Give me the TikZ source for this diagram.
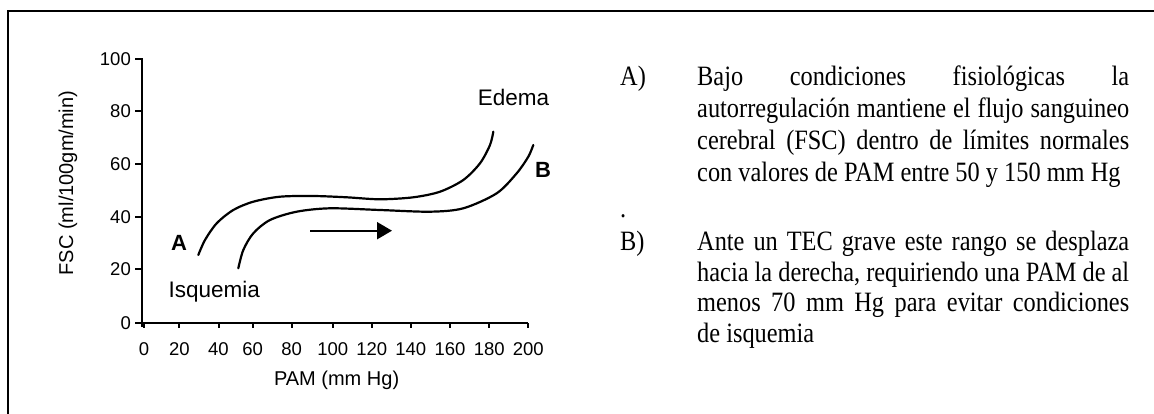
\documentclass[tikz,border=0pt]{standalone}
\usepackage{fontspec}
\setmainfont{Liberation Serif}
\setsansfont{Liberation Sans}
\newfontfamily\bodyfont[FakeStretch=0.87]{Liberation Serif}
\usetikzlibrary{arrows.meta}
\usetikzlibrary{positioning}
\hyphenpenalty=10000
\exhyphenpenalty=10000
\tolerance=10000
\hbadness=10000

\begin{document}
\begin{tikzpicture}[x=1pt, y=-1pt, >={Triangle[length=15pt,width=17pt]},
  axis/.style={line width=2pt},
  curve/.style={line width=2.2pt, line cap=round},
  ticklabel/.style={font=\sffamily\fontsize{18.5}{18.5}\selectfont, inner sep=0pt},
  curvelabel/.style={font=\sffamily\fontsize{22.5}{22.5}\selectfont, inner sep=0pt},
  item/.style={font=\bodyfont\fontsize{28}{32}\selectfont, inner sep=0pt, anchor=base west},
  para/.style={item, text width=432pt, align=justify}]
  \useasboundingbox (0,0) rectangle (1154,414);
  \clip (0,0) rectangle (1154,414);
  % frame
  \draw[line width=2.7pt] (8,430) -- (8,11) -- (1170,11);

  % axes
  \draw[axis] (141.7,58.3) -- (141.7,327);
  \draw[axis] (141.7,323) -- (528.3,323);
  \foreach \y / \val in {59.3/100, 111/80, 164/60, 216.7/40, 269.3/20, 323/0} {
    \draw[axis] (135,\y) -- (141.7,\y);
    \node[ticklabel, anchor=east] (y\val) at (131,\y) {\val};
  }
  \foreach \x / \val in {144/0, 179.3/20, 218.5/40, 252.7/60, 291.7/80, 332.7/100,
                         371.7/120, 410.8/140, 450/160, 489.3/180, 528.3/200} {
    \draw[axis] (\x,323) -- (\x,328);
    \node[ticklabel] (x\val) at (\x,349.3) {\val};
  }
  \node[font=\sffamily\fontsize{20}{20}\selectfont, rotate=90] (fsc) at (68,183) {FSC (ml/100gm/min)};
  \node[font=\sffamily\fontsize{20}{20}\selectfont] (pam) at (336.6,380) {PAM (mm Hg)};

  % curves
  \draw[curve] plot[smooth] coordinates {(198.3,255) (205,240) (216.7,223.3) (233.3,210)
    (253.3,201.7) (280,196.7) (313.3,196) (346.7,197.3) (380,199.3) (413.3,197.3)
    (440,191.7) (463.3,180) (480,163.3) (490,145) (493.3,131.7)};
  \draw[curve] plot[smooth] coordinates {(238.3,268.3) (243.3,250) (253.3,233.3) (270,220)
    (296.7,211.7) (330,208.3) (380,210) (430,211.7) (463.3,208.3) (496.7,193.3)
    (516.7,173.3) (528.3,156.7) (533.3,145)};
  \node[curvelabel, font=\sffamily\bfseries\fontsize{22}{22}\selectfont] (a) at (179,243) {A};
  \node[curvelabel, font=\sffamily\bfseries\fontsize{22}{22}\selectfont] (b) at (543,170) {B};
  \node[curvelabel] (edema) at (513.5,97) {Edema};
  \node[curvelabel] (isq) at (214.3,291.5) {Isquemia};
  \coordinate (from) at (310,230.7);
  \coordinate (to) at (392,230.7);
  \draw[->, line width=2pt] (from) -- (to);

  % text
  \node[item] (la) at (620,86) {A)};
  \node[para] (pa) at (697,86) {Bajo condiciones fisiológicas la\linebreak
    autorregulación mantiene el flujo sanguineo\linebreak
    cerebral (FSC) dentro de límites normales\linebreak
    con valores de PAM entre 50 y 150 mm Hg};
  \node[item] (dot) at (620,218) {.};
  \node[item] (lb) at (620,250.7) {B)};
  \node[para, font=\bodyfont\fontsize{28}{30.5}\selectfont] (pb) at (697,250.7) {Ante un TEC grave este rango se desplaza\linebreak
    hacia la derecha, requiriendo una PAM de al\linebreak
    menos 70 mm Hg para evitar condiciones\linebreak
    de isquemia};
\end{tikzpicture}
\end{document}
